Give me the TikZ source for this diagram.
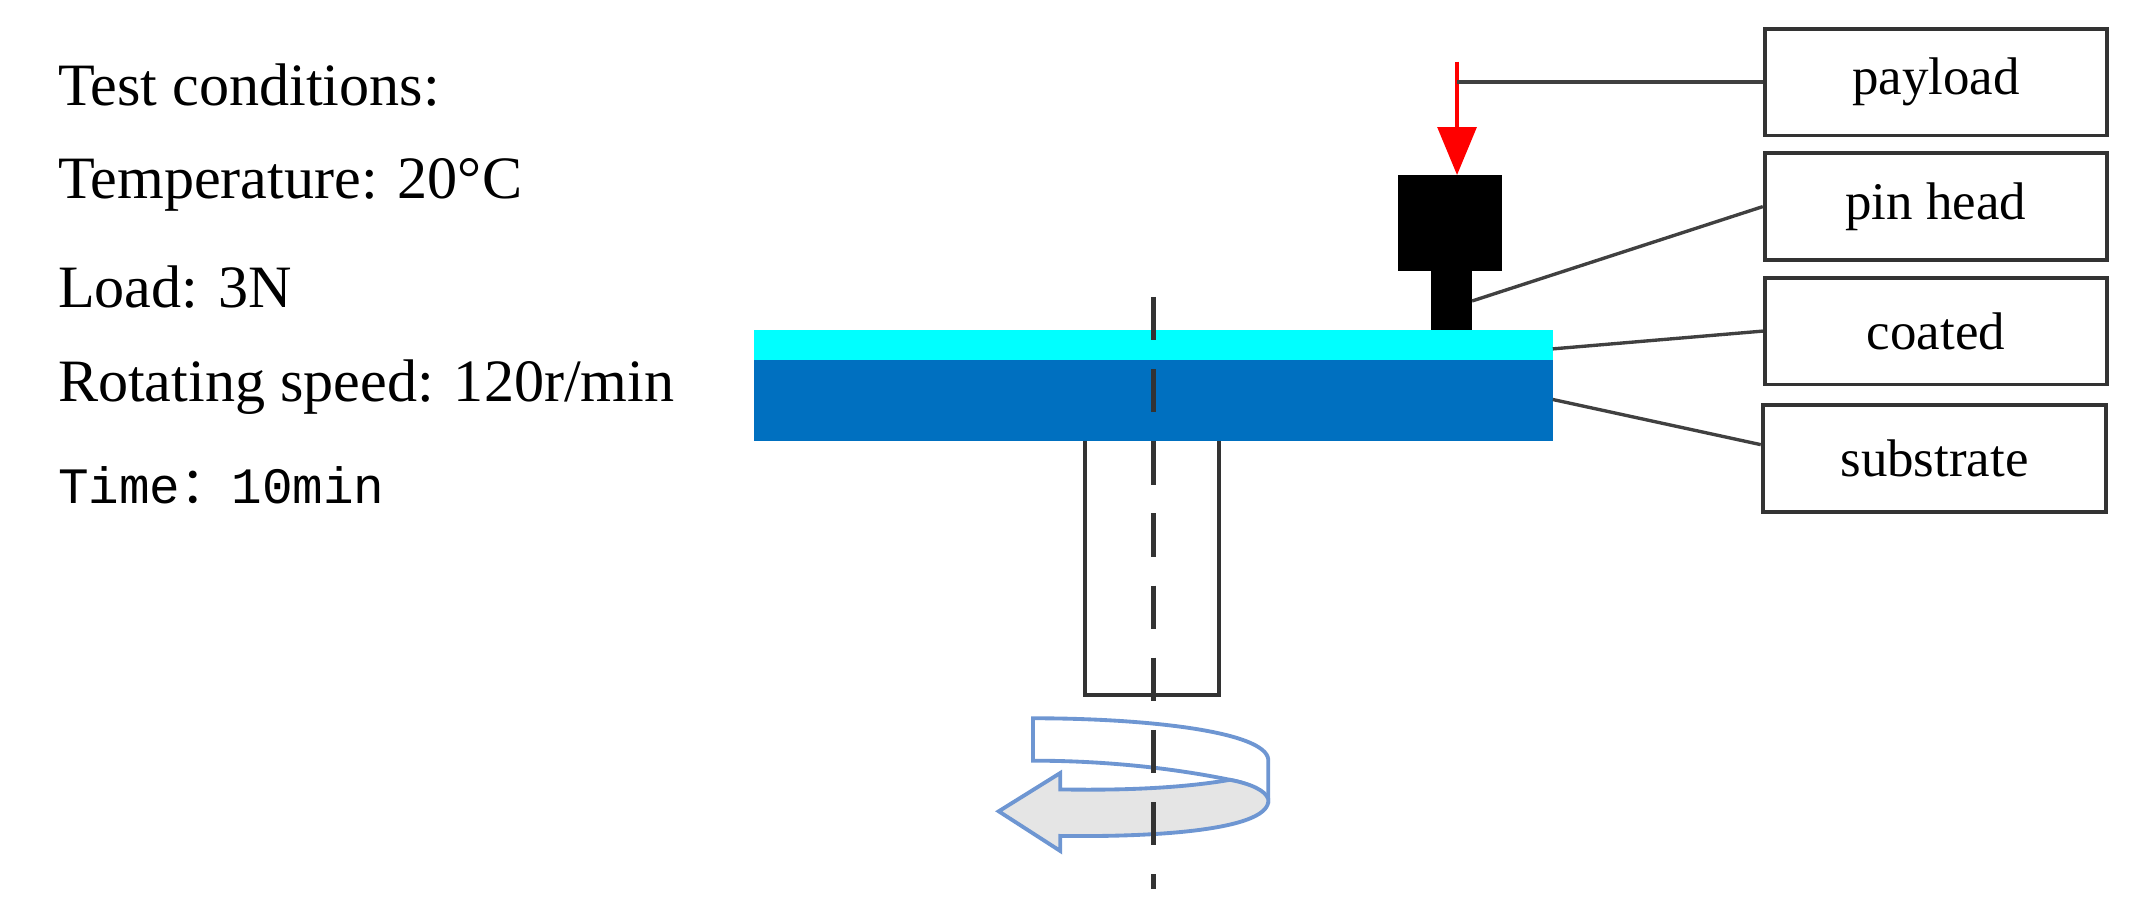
\documentclass[tikz,border=0pt]{standalone}
\usepackage{fontspec}
\setmainfont{Liberation Serif}
\setmonofont{Liberation Mono}
\newfontfamily\cjk{Noto Sans CJK SC}
\usetikzlibrary{arrows.meta}
\definecolor{coatcyan}{RGB}{0,255,255}
\definecolor{subblue}{RGB}{0,112,192}
\definecolor{rotblue}{RGB}{110,150,210}
\tikzset{
  label box/.style={draw=black!80, line width=0.8pt, minimum width=2.5cm, minimum height=0.78cm, font=\fontsize{11}{13}\selectfont},
  leader/.style={draw=black!75, line width=0.7pt},
  cond/.style={anchor=west, font=\fontsize{12.5}{15}\selectfont},
}
\begin{document}
\begin{tikzpicture}[x=0.01cm, y=-0.01cm]
  \useasboundingbox (0,0) rectangle (1562,669);

  % test conditions
  \node[cond] (t1) at (30,62)  {Test conditions:};
  \node[cond] (t2) at (30,135) {Temperature: 20\textdegree C};
  \node[cond] (t3) at (30,210) {Load: 3N};
  \node[cond] (t4) at (30,283) {Rotating speed: 120r/min};
  \node[cond, font=\ttfamily\fontsize{10.6}{14}\selectfont] (t5) at (30,355) {Time{\cjk ：}10min};

  % disc and shaft
  \fill[coatcyan] (551,241) rectangle (1135,263);
  \fill[subblue] (551,263) rectangle (1135,322);
  \draw[black!80, line width=0.8pt] (793,322) -- (793,508) -- (891,508) -- (891,322);

  % pin
  \fill (1022,128) rectangle (1098,198);
  \fill (1046,198) rectangle (1076,241);
  \draw[red, line width=1pt, -{Triangle[length=10pt,width=8pt]}] (1065,45) -- (1065,128);

  % rotation arrow
  \draw[rotblue, line width=0.8pt, fill=white]
    (755,525) .. controls (840,525) and (925,535) .. (927,555) -- (927,584)
    .. controls (920,576) and (910,572) .. (899,570)
    .. controls (850,560) and (800,556) .. (755,556) -- cycle;
  \draw[rotblue, line width=0.8pt, fill=black!10]
    (927,584) .. controls (930,606) and (850,612) .. (775,611)
    -- (775,622) -- (730,593) -- (775,565) -- (775,577)
    .. controls (830,578) and (870,575) .. (899,570)
    .. controls (915,573) and (925,578) .. (927,584) -- cycle;

  % axis
  \draw[black!80, line width=1pt, dash pattern=on 9pt off 6pt] (843,217) -- (843,650);

  % labels
  \node[label box] (payload) at (1415,60)  {payload};
  \node[label box] (pin)     at (1415,151) {pin head};
  \node[label box] (coat)    at (1415,242) {coated};
  \node[label box] (sub)     at (1414,335) {substrate};

  \coordinate (pl) at (1065,60);
  \coordinate (ph) at (1076,220);
  \coordinate (ct) at (1135,255);
  \coordinate (sb) at (1135,292);
  \draw[leader] (pl) -- (payload.west);
  \draw[leader] (ph) -- (pin.west);
  \draw[leader] (ct) -- (coat.west);
  \draw[leader] (sb) -- (1287,325);
\end{tikzpicture}
\end{document}
